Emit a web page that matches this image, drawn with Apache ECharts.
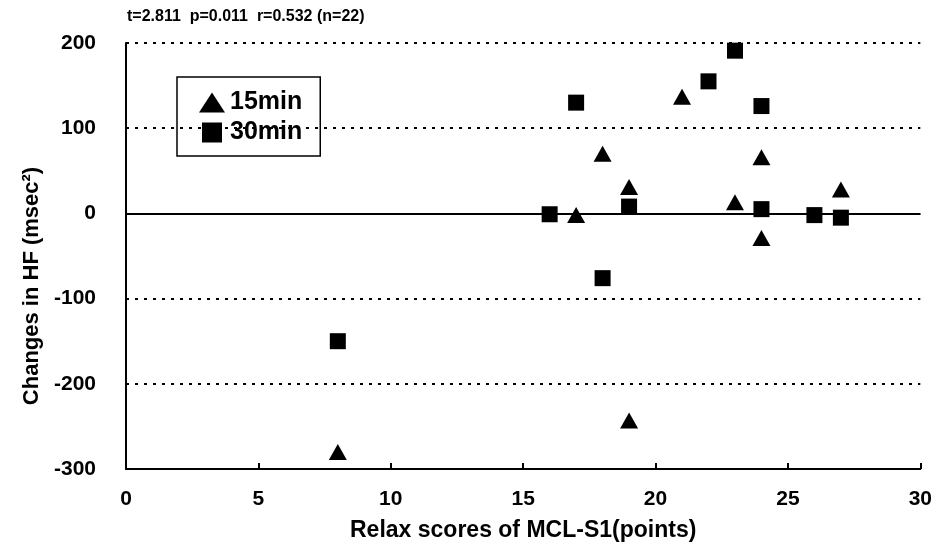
<head>
<meta charset="UTF-8">
<script src="https://cdn.jsdelivr.net/npm/echarts@6/dist/echarts.min.js"></script>
</head>
<body style="margin:0;background:#fff">
<div id="main" style="width:935px;height:547px;"></div>
<script type="text/javascript">
// 15min (triangles) and 30min (squares): [relax score, change in HF]
var min15 = [[8, -280], [17, -2], [18, 70], [19, 31], [19, -243], [21, 137], [23, 13], [24, 66], [24, -29], [27, 28]];
var min30 = [[8, -150], [16, -1], [17, 130], [18, -76], [19, 8], [22, 155], [23, 191], [24, 126], [24, 5], [26, -2], [27, -5]];
var statText = 't=2.811  p=0.011  r=0.532 (n=22)';
var xName = 'Relax scores of MCL-S1(points)';
var yName = 'Changes in HF (msec²)';

var font = 'Liberation Sans';
var myChart = echarts.init(document.getElementById('main'));
myChart.setOption({
    animation: false,
    backgroundColor: '#fff',
    title: {
        text: statText,
        left: 122, top: 4,
        textStyle: {fontFamily: font, fontSize: 16, fontWeight: 'bold', color: '#000'}
    },
    legend: {
        orient: 'vertical',
        left: 177, top: 77,
        padding: [13, 18, 11, 22],
        borderColor: '#000', borderWidth: 1.5,
        itemWidth: 26, itemHeight: 20, itemGap: 5,
        textStyle: {fontFamily: font, fontSize: 25, fontWeight: 'bold', color: '#000'},
        data: [
            {name: '15min', icon: 'path://M13,0L26,20L0,20Z'},
            {name: '30min', icon: 'path://M0,0H20V20H0Z'}
        ]
    },
    grid: {left: 126, right: 11, top: 43, bottom: 77},
    xAxis: {
        type: 'value', min: 0, max: 30, interval: 5,
        name: xName, nameLocation: 'middle', nameGap: 50,
        nameTextStyle: {fontFamily: font, fontSize: 23, fontWeight: 'bold', color: '#000'},
        axisLine: {onZero: false, lineStyle: {color: '#000', width: 2}},
        axisTick: {inside: true, length: 6, lineStyle: {color: '#000', width: 2}},
        axisLabel: {fontFamily: font, fontSize: 21, fontWeight: 'bold', color: '#000', margin: 20},
        splitLine: {show: false}
    },
    yAxis: {
        type: 'value', min: -300, max: 200, interval: 100,
        name: yName, nameLocation: 'middle', nameGap: 72, nameRotate: 90,
        nameTextStyle: {fontFamily: font, fontSize: 22, fontWeight: 'bold', color: '#000', padding: [0, 60, 0, 0]},
        axisLine: {show: true, lineStyle: {color: '#000', width: 2}},
        axisTick: {show: false},
        axisLabel: {fontFamily: font, fontSize: 21, fontWeight: 'bold', color: '#000', margin: 30},
        splitLine: {show: true, lineStyle: {color: '#000', type: [3, 6], width: 2}}
    },
    series: [
        {
            name: '15min', type: 'scatter', symbol: 'triangle', symbolSize: [18, 16],
            itemStyle: {color: '#000', opacity: 1},
            data: min15,
            markLine: {
                silent: true, symbol: 'none', label: {show: false},
                lineStyle: {color: '#000', type: 'solid', width: 2},
                data: [{yAxis: 0}]
            },
            z: 3
        },
        {
            name: '30min', type: 'scatter', symbol: 'rect', symbolSize: 16,
            itemStyle: {color: '#000', opacity: 1},
            data: min30,
            z: 3
        }
    ]
});
</script>
</body>
